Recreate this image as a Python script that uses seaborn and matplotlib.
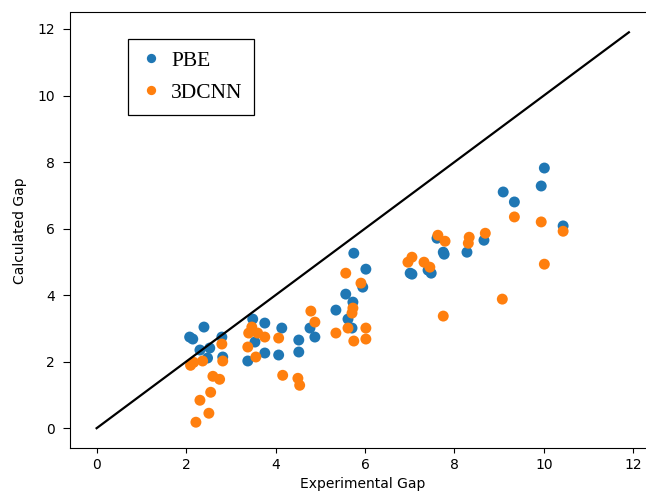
import matplotlib
matplotlib.use("Agg")
import matplotlib.pyplot as plt
import seaborn as sns
import pandas as pd

# PBE calculated gaps vs experimental gaps
pbe_exp = [2.08, 2.15, 2.40, 2.31, 2.53, 2.48, 2.80, 2.82, 3.49, 3.76, 3.38, 3.54,
           3.76, 4.14, 4.07, 4.52, 4.52, 4.77, 4.88, 5.35, 5.57, 5.75, 5.73, 5.62,
           5.71, 6.02, 5.95, 7.01, 7.05, 7.41, 7.48, 7.61, 7.75, 7.77, 8.28, 8.66,
           9.09, 9.34, 9.94, 10.01, 10.43]
pbe_calc = [2.74, 2.68, 3.04, 2.35, 2.41, 2.11, 2.74, 2.14, 3.28, 3.16, 2.02, 2.59,
            2.26, 3.01, 2.20, 2.65, 2.29, 3.01, 2.74, 3.55, 4.03, 5.26, 3.79, 3.28,
            3.01, 4.78, 4.24, 4.66, 4.63, 4.75, 4.66, 5.71, 5.29, 5.23, 5.29, 5.65,
            7.10, 6.80, 7.28, 7.82, 6.08]

# 3DCNN predicted gaps vs experimental gaps
cnn_exp = [2.10, 2.17, 2.37, 2.80, 2.82, 2.60, 2.75, 2.55, 2.31, 2.51, 2.22, 3.47,
           3.40, 3.60, 3.76, 3.38, 3.56, 4.07, 4.16, 4.50, 4.54, 4.79, 4.88, 5.35,
           5.57, 5.62, 5.71, 5.73, 5.75, 5.91, 6.02, 6.02, 6.96, 7.05, 7.32, 7.45,
           7.63, 7.79, 7.75, 8.31, 8.33, 8.69, 9.07, 9.34, 9.94, 10.01, 10.43]
cnn_calc = [1.89, 1.98, 2.02, 2.53, 2.02, 1.56, 1.47, 1.08, 0.84, 0.45, 0.18, 3.04,
            2.86, 2.86, 2.74, 2.44, 2.14, 2.71, 1.59, 1.50, 1.29, 3.52, 3.19, 2.86,
            4.66, 3.01, 3.46, 3.61, 2.62, 4.36, 3.01, 2.68, 4.99, 5.14, 4.99, 4.84,
            5.80, 5.62, 3.37, 5.56, 5.74, 5.86, 3.88, 6.35, 6.20, 4.93, 5.92]

# y = x reference line
diag = [0.0, 11.9]

df = pd.DataFrame({
    "Experimental Gap": pbe_exp + cnn_exp,
    "Calculated Gap": pbe_calc + cnn_calc,
    "Method": ["PBE"] * len(pbe_exp) + ["3DCNN"] * len(cnn_exp),
})

fig = plt.figure(figsize=(6.46, 4.98), dpi=100)
ax = fig.add_axes([70 / 646, 1 - 448 / 498, (655.5 - 70) / 646, (448 - 12.5) / 498])

sns.scatterplot(data=df, x="Experimental Gap", y="Calculated Gap", hue="Method",
                palette={"PBE": "#1f77b4", "3DCNN": "#ff7f0e"},
                s=62, linewidth=0, alpha=1.0, ax=ax)
sns.lineplot(x=diag, y=diag, color="black", linewidth=1.6, ax=ax, legend=False)

ax.set_xticks([0, 2, 4, 6, 8, 10, 12])
ax.set_yticks([0, 2, 4, 6, 8, 10, 12])
ax.set_xlim(-0.595, 12.495)
ax.set_ylim(-0.595, 12.495)
ax.tick_params(labelsize=10)
ax.tick_params(axis="y", length=5, pad=6)
ax.set_xlabel("Experimental Gap", fontsize=10, labelpad=4)
ax.set_ylabel("Calculated Gap", fontsize=10, labelpad=7)

leg = ax.legend(loc="upper left", bbox_to_anchor=(0.099, 0.939), borderaxespad=0,
                fancybox=False, framealpha=1, edgecolor="black",
                borderpad=0.55, labelspacing=0.55, handlelength=1.0,
                handletextpad=0.45,
                prop={"family": "Liberation Serif", "size": 15.5}, markerscale=0.85)
leg.get_frame().set_linewidth(0.9)

fig.savefig("out.png", dpi=100)
